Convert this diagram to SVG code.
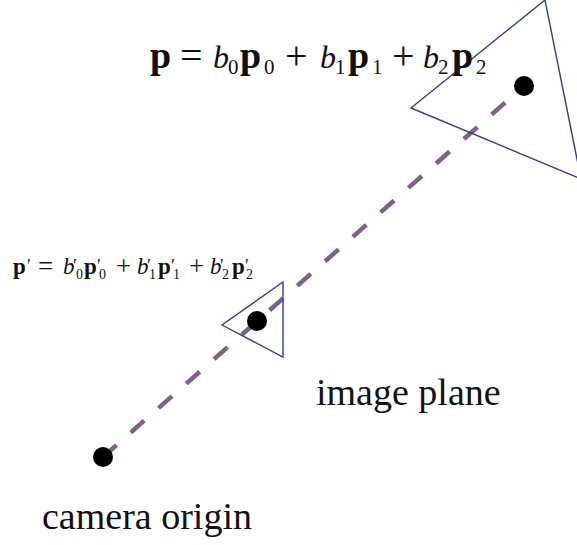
<svg xmlns="http://www.w3.org/2000/svg" width="577" height="545" viewBox="0 0 577 545">
<style>
.tri{fill:none;stroke:#343b98;stroke-width:1.4;stroke-linejoin:miter}
.dot{fill:#000}
.ray{stroke:#80608a;stroke-width:4.5;stroke-dasharray:18 19;fill:none}
.lbl{font-family:"Liberation Serif","Times New Roman",serif;font-size:38px;fill:#111}
.m{font-family:"Liberation Serif","Times New Roman",serif;fill:#111}
.bp{font-weight:bold}
.it{font-style:italic}
</style>
<rect width="577" height="545" fill="#fff"/>
<g id="connectors">
<line class="ray" x1="103" y1="457" x2="524" y2="86"/>
</g>
<g id="big-triangle">
<polygon class="tri" points="545,0 411,108 581,179"/>
<circle class="dot" cx="524" cy="86" r="10"/>
</g>
<g id="small-triangle">
<polygon class="tri" points="283,282 222,325 283,357"/>
<circle class="dot" cx="257" cy="321" r="10"/>
</g>
<g id="camera-origin">
<circle class="dot" cx="103" cy="457" r="10"/>
<text class="lbl" x="42" y="529">camera origin</text>
</g>
<g id="image-plane">
<text class="lbl" x="316" y="405">image plane</text>
</g>
<g id="formula-big" class="m">
<text font-size="32"><tspan class="bp" x="150" y="68" font-size="38">p</tspan><tspan x="180" y="69" font-size="40">=</tspan><tspan class="it" x="213" y="68">b</tspan><tspan x="228" y="74" font-size="21">0</tspan><tspan class="bp" x="240" y="68" font-size="38">p</tspan><tspan x="264" y="74" font-size="21">0</tspan><tspan x="285" y="69" font-size="40">+</tspan><tspan class="it" x="320" y="68">b</tspan><tspan x="335" y="74" font-size="21">1</tspan><tspan class="bp" x="348" y="68" font-size="38">p</tspan><tspan x="372" y="74" font-size="21">1</tspan><tspan x="392" y="69" font-size="40">+</tspan><tspan class="it" x="423" y="68">b</tspan><tspan x="438" y="74" font-size="21">2</tspan><tspan class="bp" x="452" y="68" font-size="38">p</tspan><tspan x="476" y="74" font-size="21">2</tspan></text>
</g>
<g id="formula-small" class="m">
<text font-size="23"><tspan class="bp" x="13" y="274" font-size="23">p</tspan><tspan x="27" y="272" font-size="18">′</tspan><tspan x="38" y="275" font-size="27">=</tspan><tspan class="it" x="63" y="274">b</tspan><tspan x="73" y="272" font-size="18">′</tspan><tspan x="76" y="279" font-size="14">0</tspan><tspan class="bp" x="84" y="274" font-size="23">p</tspan><tspan x="97" y="272" font-size="18">′</tspan><tspan x="99" y="279" font-size="14">0</tspan><tspan x="116" y="275" font-size="27">+</tspan><tspan class="it" x="137" y="274">b</tspan><tspan x="147" y="272" font-size="18">′</tspan><tspan x="149" y="279" font-size="14">1</tspan><tspan class="bp" x="158" y="274" font-size="23">p</tspan><tspan x="171" y="272" font-size="18">′</tspan><tspan x="173" y="279" font-size="14">1</tspan><tspan x="189" y="275" font-size="27">+</tspan><tspan class="it" x="210" y="274">b</tspan><tspan x="220" y="272" font-size="18">′</tspan><tspan x="222" y="279" font-size="14">2</tspan><tspan class="bp" x="232" y="274" font-size="23">p</tspan><tspan x="245" y="272" font-size="18">′</tspan><tspan x="246" y="279" font-size="14">2</tspan></text>
</g>
</svg>
